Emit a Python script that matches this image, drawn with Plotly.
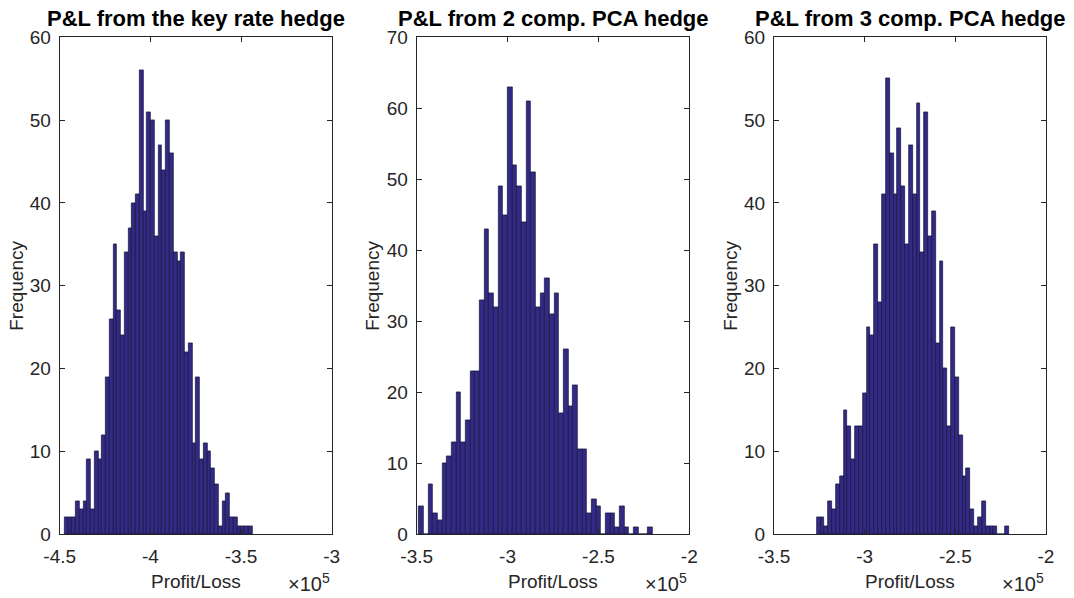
import plotly.graph_objects as go

# ---------------- data ----------------
titles = ["P&L from the key rate hedge", "P&L from 2 comp. PCA hedge", "P&L from 3 comp. PCA hedge"]

# histogram counts (50 bins each)
counts_key = [2, 2, 2, 4, 3, 4, 9, 3, 10, 9,
              12, 19, 26, 35, 27, 24, 34, 37, 40, 41,
              56, 39, 51, 50, 36, 47, 44, 50, 46, 34,
              33, 34, 22, 23, 11, 19, 9, 11, 10, 8,
              6, 1, 4, 5, 2, 2, 1, 1, 1, 1]
counts_pca2 = [4, 0, 7, 3, 2, 10, 11, 13, 20, 13,
               16, 23, 23, 33, 43, 34, 32, 49, 45, 63,
               52, 49, 44, 61, 51, 32, 34, 36, 31, 34,
               17, 26, 18, 21, 12, 12, 3, 5, 4, 0,
               3, 3, 1, 4, 1, 0, 1, 0, 0, 1]
counts_pca3 = [2, 2, 1, 4, 3, 6, 7, 15, 13, 9,
               13, 13, 17, 25, 24, 35, 28, 41, 55, 46,
               41, 49, 42, 35, 47, 41, 52, 34, 51, 36,
               39, 23, 33, 20, 13, 25, 19, 12, 7, 8,
               3, 1, 2, 4, 1, 1, 1, 0, 0, 1]

# bin lower edge and bin width of each histogram (profit/loss units)
bin_lo = [-447350, -348800, -326450]
bin_width = [2072, 2568, 2118]

x_ranges = [[-450000, -300000], [-350000, -200000], [-350000, -200000]]
x_tickvals = [[-450000, -400000, -350000, -300000],
              [-350000, -300000, -250000, -200000],
              [-350000, -300000, -250000, -200000]]
x_ticktext = [["-4.5", "-4", "-3.5", "-3"],
              ["-3.5", "-3", "-2.5", "-2"],
              ["-3.5", "-3", "-2.5", "-2"]]
y_max = [60, 70, 60]
y_dtick = 10

# ---------------- layout constants ----------------
W, H = 1074, 598
ax_left_px = [59.7, 416.7, 774.0]
ax_right_px = [331.7, 689.3, 1046.0]
ax_top_px, ax_bot_px = 37.3, 534.3
ylab_x_px = [17, 373, 731]

bar_fill = "#322a85"
bar_edge = "#15123a"
axis_col = "#262626"
font_fam = "Liberation Sans, Arial, Helvetica, sans-serif"

all_counts = [counts_key, counts_pca2, counts_pca3]

fig = go.Figure()
layout = dict(
    width=W, height=H,
    margin=dict(l=0, r=0, t=0, b=0, autoexpand=False),
    paper_bgcolor="white", plot_bgcolor="white",
    showlegend=False, bargap=0,
    font=dict(family=font_fam, size=19, color=axis_col),
    annotations=[],
)

for i in range(3):
    counts = all_counts[i]
    centers = [bin_lo[i] + bin_width[i] * (k + 0.5) for k in range(len(counts))]
    xa = "x" if i == 0 else f"x{i+1}"
    ya = "y" if i == 0 else f"y{i+1}"
    fig.add_trace(go.Bar(
        x=centers, y=counts, width=bin_width[i],
        marker=dict(color=bar_fill, line=dict(color=bar_edge, width=0.7)),
        xaxis=xa, yaxis=ya, hoverinfo="x+y",
    ))
    xd = [ax_left_px[i] / W, ax_right_px[i] / W]
    yd = [1 - ax_bot_px / H, 1 - ax_top_px / H]
    xkey = "xaxis" if i == 0 else f"xaxis{i+1}"
    ykey = "yaxis" if i == 0 else f"yaxis{i+1}"
    layout[xkey] = dict(
        domain=xd, anchor=ya, range=x_ranges[i], automargin=False,
        tickvals=x_tickvals[i], ticktext=x_ticktext[i],
        ticks="inside", ticklen=5, tickwidth=1, tickcolor=axis_col,
        showline=True, linecolor=axis_col, linewidth=1, mirror="ticks",
        showgrid=False, zeroline=False, ticklabelstandoff=5,
        tickfont=dict(size=19, color=axis_col),
    )
    layout[ykey] = dict(
        domain=yd, anchor=xa, range=[0, y_max[i]], dtick=y_dtick, automargin=False,
        ticks="inside", ticklen=5, tickwidth=1, tickcolor=axis_col,
        showline=True, linecolor=axis_col, linewidth=1, mirror="ticks",
        showgrid=False, zeroline=False, ticklabelstandoff=4,
        tickfont=dict(size=19, color=axis_col),
    )
    cx = (ax_left_px[i] + ax_right_px[i]) / 2 / W
    # title
    layout["annotations"].append(dict(
        text="<b>" + titles[i].replace("&", "&amp;") + "</b>", x=cx, y=1 - 19 / H,
        xref="paper", yref="paper", xanchor="center", yanchor="middle",
        showarrow=False, font=dict(size=22, color="#000000", family=font_fam),
    ))
    # x label
    layout["annotations"].append(dict(
        text="Profit/Loss", x=cx, y=1 - 581 / H,
        xref="paper", yref="paper", xanchor="center", yanchor="middle",
        showarrow=False, font=dict(size=19, color=axis_col, family=font_fam),
    ))
    # exponent
    layout["annotations"].append(dict(
        text="×10<sup>5</sup>", x=(ax_right_px[i] - 46) / W, y=1 - 582 / H,
        xref="paper", yref="paper", xanchor="left", yanchor="middle",
        showarrow=False, font=dict(size=20, color=axis_col, family=font_fam),
    ))
    # y label
    layout["annotations"].append(dict(
        text="Frequency", x=ylab_x_px[i] / W, y=1 - (ax_top_px + ax_bot_px) / 2 / H,
        xref="paper", yref="paper", xanchor="center", yanchor="middle",
        textangle=-90, showarrow=False,
        font=dict(size=19, color=axis_col, family=font_fam),
    ))

fig.update_layout(**layout)
fig.write_html(
    "out.html",
    config={"displayModeBar": False},
    post_script="document.body.style.margin='0';document.body.style.padding='0';",
)
